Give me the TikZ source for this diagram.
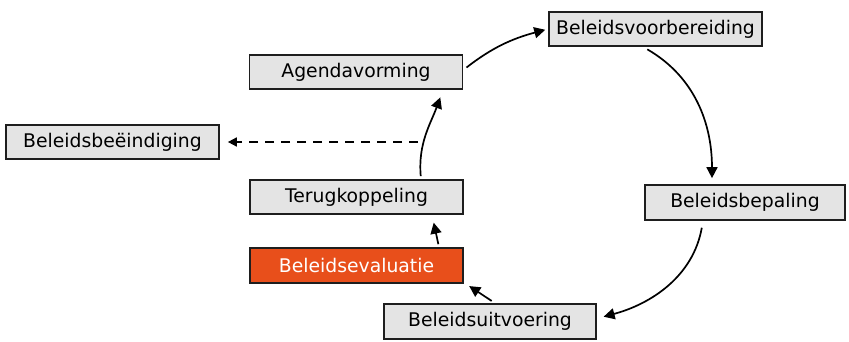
\documentclass[tikz,border=0pt]{standalone}
\usepackage{fontspec}
\setmainfont{DejaVu Sans}
\usetikzlibrary{arrows.meta}
\definecolor{boxgray}{HTML}{E4E4E4}
\definecolor{boxorange}{HTML}{E84F1B}
\definecolor{edgedark}{HTML}{1E1E1E}
\tikzset{
  phase/.style={draw=edgedark, line width=1.7pt, fill=boxgray,
    minimum width=213pt, minimum height=34pt, inner sep=0pt,
    font=\fontsize{18.8}{22}\selectfont, text=black},
  hilite/.style={phase, fill=boxorange, text=white},
  flow/.style={line width=1.7pt, draw=black,
    -{Triangle[length=11pt,width=11pt]}},
  exitflow/.style={line width=1.7pt, draw=black, dash pattern=on 9pt off 7pt,
    -{Triangle[length=9pt,width=9pt]}}
}
\begin{document}
\begin{tikzpicture}[x=1pt,y=1pt]
  \useasboundingbox (0,0) rectangle (849,341);

  % phases of the policy cycle
  \node[phase] (agenda) at (356,269) {Agendavorming};
  \node[phase] (voorb)  at (655.5,312) {Beleidsvoorbereiding};
  \node[phase] (einde)  at (112.5,199) {Beleidsbeëindiging};
  \node[phase] (terug)  at (356.5,144) {Terugkoppeling};
  \node[phase, minimum width=200pt, minimum height=35pt] (bepal) at (745,138.5) {Beleidsbepaling};
  \node[hilite, minimum height=35pt] (eval) at (356.5,75.5) {Beleidsevaluatie};
  \node[phase, minimum width=212pt, minimum height=35pt] (uitv) at (490,19.5) {Beleidsuitvoering};

  % start of the exit branch
  \coordinate (split) at (418,199);

  % cycle
  \draw[flow, shorten <=4pt, shorten >=3pt]
    ([yshift=2pt]agenda.east) to[out=38, in=195] (voorb.west);
  \draw[flow, shorten <=5pt, shorten >=6pt]
    ([xshift=-12.5pt]voorb.south) to[out=-30, in=90] ([xshift=-33pt]bepal.north);
  \draw[flow, shorten <=7pt, shorten >=7pt]
    ([xshift=-42pt]bepal.south) to[out=-100, in=15] ([yshift=3pt]uitv.east);
  \draw[flow, shorten <=4pt, shorten >=4pt]
    ([xshift=5pt]uitv.north) -- ([xshift=2pt]eval.south east);
  \draw[flow, shorten <=3pt, shorten >=8pt]
    ([xshift=82.5pt]eval.north) -- ([xshift=75.5pt]terug.south);
  \draw[flow, shorten <=3pt, shorten >=8pt]
    ([xshift=64.5pt]terug.north) to[out=95, in=-110] ([xshift=87pt]agenda.south);

  % exit
  \draw[exitflow, shorten >=8pt] (split) -- (einde.east);
\end{tikzpicture}
\end{document}
